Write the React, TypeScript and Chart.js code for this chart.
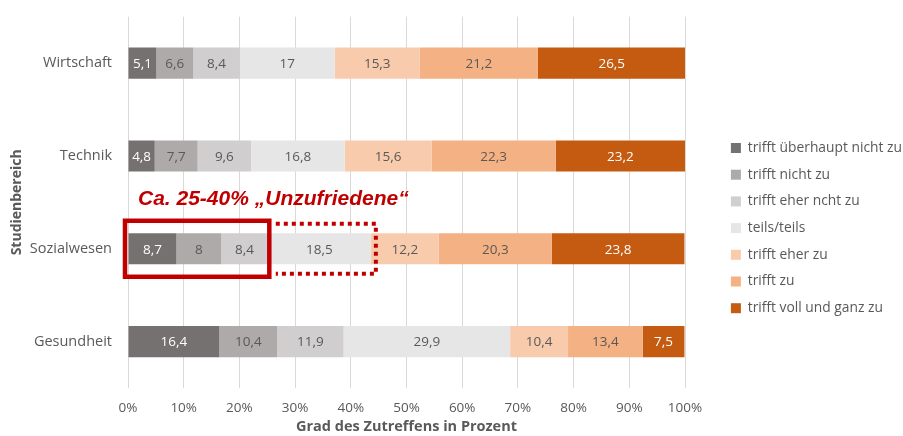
import React, { useEffect, useRef } from "react";
import { Chart, registerables } from "chart.js";

Chart.register(...registerables);

const categories = ["Wirtschaft", "Technik", "Sozialwesen", "Gesundheit"];
const seriesNames = [
  "trifft überhaupt nicht zu",
  "trifft nicht zu",
  "trifft eher ncht zu",
  "teils/teils",
  "trifft eher zu",
  "trifft zu",
  "trifft voll und ganz zu",
];
const ueberhauptNicht = [5.1, 4.8, 8.7, 16.4];
const nicht = [6.6, 7.7, 8, 10.4];
const eherNicht = [8.4, 9.6, 8.4, 11.9];
const teils = [17, 16.8, 18.5, 29.9];
const eherZu = [15.3, 15.6, 12.2, 10.4];
const zu = [21.2, 22.3, 20.3, 13.4];
const vollZu = [26.5, 23.2, 23.8, 7.5];
const xTickLabels = ["0%", "10%", "20%", "30%", "40%", "50%", "60%", "70%", "80%", "90%", "100%"];
const annotationText = "Ca. 25-40% \u201EUnzufriedene\u201C";
const highlightCategory = "Sozialwesen";

const colors = ["#767171", "#aeaaaa", "#d0cece", "#e7e6e6", "#f8cbad", "#f4b183", "#c55a11"];
const labelColors = ["#ffffff", "#595959", "#595959", "#595959", "#595959", "#595959", "#ffffff"];
const textGray = "#595959";
const FONT = "'Open Sans', Lato, sans-serif";

const dataLabelPlugin = {
  id: "dataLabels",
  afterDatasetsDraw(chart: any) {
    const ctx = chart.ctx;
    ctx.save();
    ctx.font = `13.5px ${FONT}`;
    ctx.textAlign = "center";
    ctx.textBaseline = "middle";
    chart.data.datasets.forEach((ds: any, di: number) => {
      const meta = chart.getDatasetMeta(di);
      meta.data.forEach((el: any, i: number) => {
        const v = ds.data[i];
        const cx = (el.x + el.base) / 2;
        ctx.fillStyle = labelColors[di];
        ctx.fillText(String(v).replace(".", ","), cx, el.y + 1);
      });
    });
    ctx.restore();
  },
};

const annotationPlugin = {
  id: "annotations",
  afterDatasetsDraw(chart: any) {
    const ctx = chart.ctx;
    const xs = chart.scales.x;
    const ys = chart.scales.y;
    const idx = categories.indexOf(highlightCategory);
    const cy = ys.getPixelForValue(idx);
    const unhappy = ueberhauptNicht[idx] + nicht[idx] + eherNicht[idx];
    const withTeils = unhappy + teils[idx];
    const x0 = xs.getPixelForValue(0);
    const x1 = xs.getPixelForValue(unhappy);
    const x2 = xs.getPixelForValue(withTeils);
    ctx.save();
    ctx.strokeStyle = "#c00000";
    // solid box
    ctx.lineWidth = 4.5;
    ctx.setLineDash([]);
    ctx.strokeRect(x0 - 3, cy - 28, x1 + 1.5 - (x0 - 3), 56);
    // dotted box (open on the left)
    ctx.lineWidth = 4;
    ctx.setLineDash([4, 4]);
    ctx.lineCap = "butt";
    ctx.beginPath();
    ctx.moveTo(x1 + 8, cy - 25);
    ctx.lineTo(x2 + 5, cy - 25);
    ctx.lineTo(x2 + 5, cy + 25);
    ctx.lineTo(x1 + 8, cy + 25);
    ctx.stroke();
    ctx.setLineDash([]);
    // text
    const ty = (ys.getPixelForValue(idx - 1) + cy) / 2 + 3;
    ctx.fillStyle = "#c00000";
    ctx.font = `italic bold 21px 'Liberation Sans', Arial, sans-serif`;
    ctx.textAlign = "left";
    ctx.textBaseline = "alphabetic";
    ctx.fillText(annotationText, x0 + 10, ty);
    ctx.restore();
  },
};

export default function App() {
  const ref = useRef<HTMLCanvasElement | null>(null);
  useEffect(() => {
    if (!ref.current) return;
    const seriesData = [ueberhauptNicht, nicht, eherNicht, teils, eherZu, zu, vollZu];
    const chart = new Chart(ref.current, {
      type: "bar",
      data: {
        labels: categories,
        datasets: seriesNames.map((name, i) => ({
          label: name,
          data: seriesData[i],
          backgroundColor: colors[i],
          borderWidth: 0,
          barPercentage: 0.335,
          categoryPercentage: 1,
        })),
      },
      options: {
        indexAxis: "y",
        animation: false,
        responsive: false,
        maintainAspectRatio: false,
        layout: { padding: { top: 15, left: 9, right: 0, bottom: 0 } },
        plugins: {
          tooltip: { enabled: false },
          legend: {
            position: "right",
            align: "start",
            maxWidth: 185,
            title: { display: true, text: "", padding: { top: 98.8, bottom: 0 }, font: { size: 12 } },
            labels: {
              boxWidth: 10,
              boxHeight: 10,
              padding: 12.9,
              color: textGray,
              font: { family: FONT, size: 13.8 },
            },
          },
        },
        scales: {
          x: {
            stacked: true,
            min: 0,
            max: 100,
            grid: { color: "#d9d9d9", drawTicks: false, lineWidth: 1 },
            border: { display: false },
            ticks: {
              stepSize: 10,
              padding: 12,
              color: textGray,
              font: { family: FONT, size: 13.5 },
              callback: (_v: any, i: number) => xTickLabels[i],
            },
            title: {
              display: true,
              text: "Grad des Zutreffens in Prozent",
              color: textGray,
              padding: 0,
              font: { family: FONT, size: 14.5, weight: "bold" },
            },
            afterFit: (s: any) => {
              s.height = 48;
            },
          },
          y: {
            stacked: true,
            grid: { display: false },
            border: { display: false },
            ticks: { padding: 8, color: textGray, font: { family: FONT, size: 14.5 } },
            title: {
              display: true,
              text: "Studienbereich",
              color: textGray,
              padding: 0,
              font: { family: FONT, size: 14, weight: "bold" },
            },
            afterFit: (s: any) => {
              s.width = 119;
            },
          },
          spacer: {
            type: "linear",
            position: "right",
            display: false,
            afterFit: (s: any) => {
              s.width = 33;
            },
          },
        },
      },
      plugins: [dataLabelPlugin, annotationPlugin],
    } as any);
    return () => chart.destroy();
  }, []);
  return (
    <div style={{ position: "fixed", left: 0, top: 0, width: 903, height: 436, background: "#fff" }}>
      <canvas ref={ref} width={903} height={436} style={{ display: "block" }} />
    </div>
  );
}
